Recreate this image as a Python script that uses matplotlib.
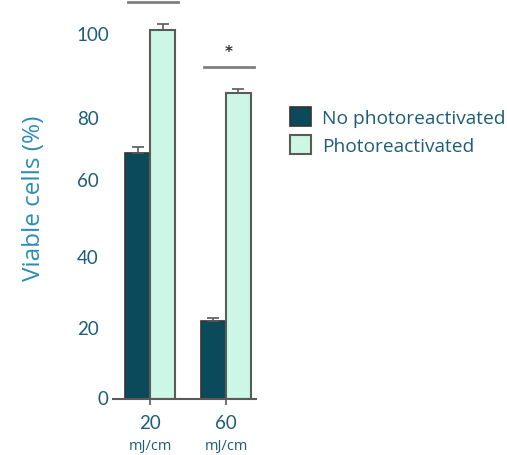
import matplotlib
matplotlib.use("Agg")
import matplotlib.pyplot as plt
import numpy as np

# data
doses = ["20", "60"]
unit_labels = ["mJ/cm", "mJ/cm"]
no_photo = [67.0, 21.1]
no_photo_err = [1.6, 0.8]
photo = [100.5, 83.4]
photo_err = [1.8, 1.0]
series_names = ["No photoreactivated", "Photoreactivated"]

# y tick labels sit a bit irregularly in the original
ytick_pos = [19.5, 38.9, 59.9, 76.7, 99.7]
ytick_labels = ["20", "40", "60", "80", "100"]

# significance bars: height and star (first star lies above the picture)
sig_height = [108.2, 90.4]
sig_star = ["", "*"]

dark = "#0b4a5b"
light = "#ccf7e6"
edge = "#5a5a5a"
txt = "#1d5d77"
lab = "#2b8cb5"

plt.rcParams["font.family"] = ["Lato", "DejaVu Sans"]

W, H = 507, 456
fig = plt.figure(figsize=(W / 100, H / 100), dpi=100)
ax = fig.add_axes([113 / W, 56.5 / H, (256 - 113) / W, (456 - 56.5) / H])

x = np.arange(len(doses))
bw = 25 / 76
ax.bar(x - bw / 2, no_photo, bw, color=dark, edgecolor="#333333", linewidth=1.2,
       yerr=[[0, 0], no_photo_err], ecolor=edge, capsize=4,
       error_kw=dict(elinewidth=1.2, capthick=1.2), label=series_names[0])
ax.bar(x + bw / 2, photo, bw, color=light, edgecolor=edge, linewidth=1.5,
       yerr=[[0, 0], photo_err], ecolor=edge, capsize=4,
       error_kw=dict(elinewidth=1.2, capthick=1.2), label=series_names[1])

for xi, h, s in zip(x, sig_height, sig_star):
    ax.plot([xi - 0.29, xi + 0.37], [h, h], color="#808080", lw=2, clip_on=False)
    if s:
        ax.text(xi + 0.04, h + 4.2, s, ha="center", va="center", fontsize=11,
                color="#333333", family="DejaVu Sans", fontweight="bold")

ax.set_xlim(-0.487, 1.395)
ax.set_ylim(0, 109)

for s in ["top", "right", "left"]:
    ax.spines[s].set_visible(False)
ax.spines["bottom"].set_color(edge)
ax.spines["bottom"].set_linewidth(1.5)

ax.set_xticks(x)
ax.set_xticklabels(doses, fontsize=13.5, color=txt)
ax.tick_params(axis="x", length=4, color=edge, width=1.2, pad=7)
for xi, u in zip(x, unit_labels):
    ax.text(xi, -0.118, u, transform=ax.get_xaxis_transform(), ha="center",
            va="center", fontsize=10.5, color=txt,
            family=["Open Sans", "DejaVu Sans"])

ax.set_yticks(ytick_pos)
ax.set_yticklabels(ytick_labels, fontsize=13.5, color=txt, ha="left")
ax.tick_params(axis="y", length=0, pad=26)
ax.text(-0.03, 0, "0", transform=ax.get_yaxis_transform(), ha="right",
        va="center", fontsize=13.5, color=txt)
ax.plot([0, 0], [0, 1.5], color=edge, lw=1.2, clip_on=False)

fig.text(34 / W, 1 - 198 / H, "Viable cells (%)", rotation=90, ha="center",
         va="center", fontsize=17.5, color=lab, family=["Open Sans", "DejaVu Sans"])

leg = fig.legend(loc="upper left", bbox_to_anchor=(290 / W, 1 - 108 / H),
                 frameon=False, borderpad=0, borderaxespad=0,
                 handlelength=1.1, handleheight=1.15, handletextpad=0.55,
                 labelspacing=0.42, prop={"family": ["Open Sans", "DejaVu Sans"], "size": 13.8})
for t in leg.get_texts():
    t.set_color(txt)

fig.savefig("out.png", dpi=100)
